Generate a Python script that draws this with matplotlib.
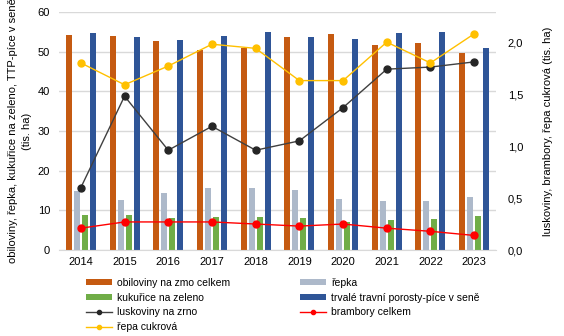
import numpy as np
import matplotlib.pyplot as plt
from matplotlib.lines import Line2D
from matplotlib.ticker import FuncFormatter

plt.rcParams['font.family'] = ['Liberation Sans', 'DejaVu Sans']

# ---------- Data ----------
years = ["2014", "2015", "2016", "2017", "2018", "2019", "2020", "2021", "2022", "2023"]

obiloviny = [54.2, 53.9, 52.7, 50.4, 51.0, 53.7, 54.4, 51.7, 52.2, 49.7]
repka = [14.9, 12.6, 14.4, 15.6, 15.6, 15.1, 12.9, 12.4, 12.4, 13.4]
kukurice = [8.8, 8.8, 8.0, 8.3, 8.3, 8.1, 7.1, 7.6, 7.8, 8.6]
ttp = [54.7, 53.7, 52.9, 53.9, 55.0, 53.7, 53.2, 54.7, 55.0, 50.9]

luskoviny = [0.60, 1.48, 0.96, 1.19, 0.96, 1.05, 1.37, 1.74, 1.76, 1.81]
brambory = [0.21, 0.27, 0.27, 0.27, 0.25, 0.23, 0.25, 0.21, 0.18, 0.14]
repa_cukrova = [1.80, 1.59, 1.77, 1.98, 1.94, 1.63, 1.63, 2.00, 1.80, 2.08]

# ---------- Figure ----------
fig = plt.figure(figsize=(5.64, 3.36), dpi=100)
ax = fig.add_axes([59 / 564, 1 - 250 / 336, 437 / 564, 238 / 336])
ax2 = ax.twinx()

x = np.arange(len(years))
w = 0.137
step = 0.183
b1 = ax.bar(x - 1.5 * step, obiloviny, w, color="#C55A11", zorder=2)
b2 = ax.bar(x - 0.5 * step, repka, w, color="#ADB9CA", zorder=2)
b3 = ax.bar(x + 0.5 * step, kukurice, w, color="#70AD47", zorder=2)
b4 = ax.bar(x + 1.5 * step, ttp, w, color="#2F5597", zorder=2)

ax2.plot(x, luskoviny, color="#404040", lw=1, marker="o", ms=5, mfc="#262626", mec="#262626")
ax2.plot(x, brambory, color="#FF0000", lw=1, marker="o", ms=5)
ax2.plot(x, repa_cukrova, color="#FFC000", lw=1, marker="o", ms=5)

ax.set_xlim(-0.5, len(years) - 0.5)
ax.set_ylim(0, 60)
ax.set_yticks(np.arange(0, 61, 10))
ax.set_xticks(x)
ax.set_xticklabels(years)
ax.yaxis.grid(True, color="#D9D9D9", lw=1, zorder=0)
ax.set_axisbelow(True)

ax2.set_ylim(0, 2.29)
ax2.set_yticks([0, 0.5, 1.0, 1.5, 2.0])
ax2.yaxis.set_major_formatter(FuncFormatter(lambda v, p: f"{v:.1f}".replace(".", ",")))

for a in (ax, ax2):
    for s in a.spines.values():
        s.set_visible(False)
    a.tick_params(length=0, labelsize=8, colors="#000000")
ax.spines["bottom"].set_visible(True)
ax.spines["bottom"].set_color("#D9D9D9")
ax.tick_params(axis="y", pad=6.5)
ax.tick_params(axis="x", pad=5)
ax2.tick_params(axis="y", pad=8.5)

ax.set_ylabel("obiloviny, řepka, kukuřice na zeleno, TTP-píce v seně\n(tis. ha)",
              fontsize=8, labelpad=4, linespacing=1.55)
ax2.set_ylabel("luskoviny, brambory, řepa cukrová (tis. ha)", fontsize=8, labelpad=14)

# legenda s malými značkami
h_lusk = Line2D([], [], color="#404040", lw=1, marker="o", ms=3, mfc="#262626", mec="#262626")
h_bram = Line2D([], [], color="#FF0000", lw=1, marker="o", ms=3)
h_repa = Line2D([], [], color="#FFC000", lw=1, marker="o", ms=3)
handles = [b1, b3, h_lusk, h_repa, b2, b4, h_bram]
labels = ["obiloviny na zmo celkem", "kukuřice na zeleno", "luskoviny na zrno", "řepa cukrová",
          "řepka", "trvalé travní porosty-píce v seně", "brambory celkem"]
fig.legend(handles=handles, labels=labels, ncol=2,
           loc="upper left", bbox_to_anchor=(86 / 564, 1 - 278 / 336), frameon=False,
           fontsize=7.5, handlelength=2.5, handleheight=0.55, columnspacing=6.7,
           labelspacing=0.45, handletextpad=0.5, borderaxespad=0, borderpad=0)

fig.savefig("out.png", dpi=100)
